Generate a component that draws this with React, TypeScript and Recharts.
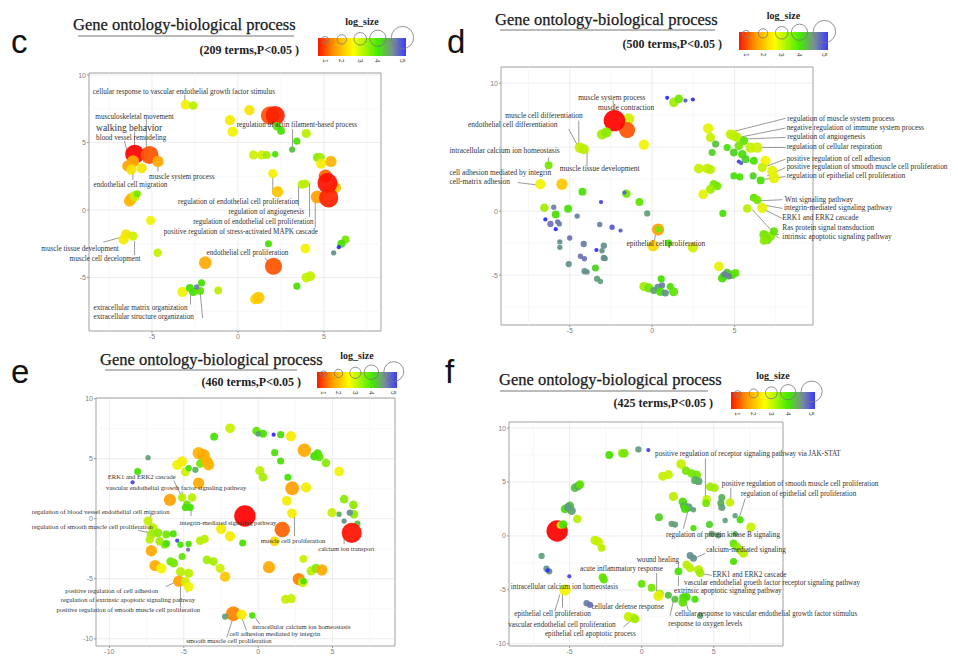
import React from "react"
import {
  ScatterChart,
  Scatter,
  XAxis,
  YAxis,
  ZAxis,
  CartesianGrid,
  Cell,
  ReferenceLine,
  ReferenceDot,
  ReferenceArea,
} from "recharts"

// [x, y, log_size, colour value]
type Pt = [number, number, number, number]
// [text, x, y, anchor]
type Lab = [string, number, number, "start" | "end"]
// [x1, y1, x2, y2]
type Seg = [number, number, number, number]

const legendTicks = [1, 2, 3, 4, 5]
const termCounts = ["(209 terms,P<0.05 )", "(500 terms,P<0.05 )", "(460 terms,P<0.05 )", "(425 terms,P<0.05 )"]

const cPoints: Pt[] = [
  [-3.05, 7.8, 1.7, 3.0], [-2.6, 7.75, 1.5, 3.5], [0.66, 7.4, 1.8, 2.8], [-0.47, 6.66, 1.8, 2.9],
  [-0.31, 5.8, 1.8, 3.0], [1.87, 7.0, 4.0, 1.5], [2.16, 7.0, 4.2, 1.2], [2.26, 6.2, 1.5, 3.9],
  [2.5, 5.87, 1.4, 4.0], [3.15, 4.48, 1.2, 4.2], [3.42, 5.1, 1.3, 4.0], [3.97, 5.67, 1.6, 3.5],
  [0.9, 4.08, 1.6, 3.3], [1.38, 4.08, 1.6, 3.3], [1.67, 4.08, 1.4, 3.6], [2.16, 4.13, 1.2, 4.0],
  [2.02, 2.7, 1.6, 3.0], [2.3, 1.36, 2.0, 2.4], [3.72, 1.9, 1.5, 3.5], [3.91, 1.95, 1.5, 3.5],
  [4.6, 3.9, 1.5, 3.7], [4.8, 3.9, 1.5, 3.6], [4.83, 3.44, 1.8, 2.9], [5.4, 3.6, 2.0, 2.2],
  [4.6, 0.97, 2.3, 2.0], [5.08, 2.5, 2.5, 1.6], [5.66, 1.66, 2.0, 2.3], [5.2, 2.0, 4.5, 1.1],
  [5.27, 0.9, 4.2, 1.2], [-6.0, 4.13, 4.2, 1.0], [-5.14, 4.08, 3.8, 1.5], [-6.4, 3.27, 2.0, 2.0],
  [-6.1, 3.6, 2.2, 2.1], [-5.6, 3.1, 1.8, 2.8], [-6.2, 3.0, 1.8, 2.8], [-4.65, 3.6, 2.0, 2.1],
  [-6.3, 0.67, 2.0, 2.2], [-6.2, 0.85, 2.0, 2.2], [-6.0, 1.04, 1.8, 3.4], [-5.85, 1.2, 1.3, 3.8],
  [-5.08, -0.77, 1.6, 3.0], [-6.5, -1.8, 1.8, 2.8], [-6.65, -2.18, 1.8, 2.9], [-6.1, -1.93, 1.6, 3.3],
  [-4.67, -3.17, 1.5, 3.4], [-1.9, -3.9, 2.3, 2.1], [1.77, -2.5, 1.3, 4.0], [2.06, -4.16, 3.5, 1.5],
  [3.91, -2.85, 1.7, 3.0], [6.25, -2.18, 1.4, 3.8], [6.0, -2.5, 1.4, 4.0], [5.86, -2.75, 1.0, 5.0],
  [5.56, -3.17, 1.1, 4.5], [4.2, -4.9, 1.7, 3.4], [3.97, -5.0, 1.7, 3.4], [3.42, -5.64, 1.3, 4.0],
  [-3.23, -6.06, 1.8, 3.0], [-2.8, -5.77, 1.4, 4.0], [-2.6, -6.06, 1.5, 4.0], [-2.12, -5.4, 1.3, 4.0],
  [-2.2, -6.0, 1.4, 3.9], [-2.4, -5.7, 1.1, 4.6], [-1.15, -5.96, 1.4, 3.5], [1.0, -6.6, 1.8, 2.6],
  [1.19, -6.5, 2.2, 2.4],
]

const dPoints: Pt[] = [
  [-1.42, 7.2, 2.0, 3.3], [-1.52, 6.33, 3.2, 1.5], [-2.29, 7.07, 5.0, 1.0], [-3.04, 6.0, 1.8, 3.6],
  [-2.77, 6.15, 1.8, 3.7], [-0.5, 5.2, 1.8, 3.0], [-4.39, 4.97, 1.8, 3.4], [-4.15, 4.84, 1.8, 3.5],
  [-6.28, 3.59, 1.4, 3.8], [-6.78, 2.1, 1.8, 3.0], [-5.47, 2.1, 2.0, 2.4], [-4.23, 1.52, 1.4, 4.0],
  [-1.56, 1.36, 1.5, 3.8], [-1.68, 1.44, 1.0, 4.8], [-3.1, 0.71, 1.0, 4.9], [-0.77, 0.71, 1.4, 3.9],
  [-0.3, -0.18, 1.2, 4.4], [-6.54, 0.26, 1.5, 3.6], [-5.97, 0.31, 1.1, 4.6], [-5.1, 0.18, 1.4, 4.0],
  [-5.85, -0.26, 1.4, 4.0], [-6.48, -0.65, 1.0, 5.0], [-6.17, -1.0, 1.2, 4.7], [-5.73, -0.84, 1.1, 4.7],
  [-5.63, -1.0, 1.1, 4.6], [-5.85, -1.41, 1.0, 5.0], [-4.55, -0.39, 1.1, 4.6], [-3.18, -1.05, 1.1, 4.6],
  [-2.43, -1.26, 1.1, 4.8], [-1.92, -1.52, 1.0, 4.8], [-5.0, -2.1, 1.1, 4.7], [-5.6, -2.4, 1.1, 4.5],
  [-5.6, -2.83, 1.1, 4.5], [-4.15, -2.57, 1.2, 4.6], [-2.93, -2.7, 1.2, 4.5], [-3.04, -3.1, 1.1, 4.5],
  [-3.38, -3.04, 1.0, 5.0], [-4.35, -3.53, 1.1, 4.7], [-4.11, -3.72, 1.1, 4.7], [-2.93, -3.66, 1.2, 4.5],
  [-2.85, -3.7, 1.1, 4.5], [-5.06, -4.14, 1.2, 4.5], [-4.1, -4.7, 1.2, 4.5], [-3.95, -4.75, 1.1, 4.5],
  [-3.44, -4.45, 1.3, 4.1], [-3.34, -5.29, 1.2, 4.4], [-3.14, -5.5, 1.1, 4.4], [0.36, -1.44, 2.2, 2.0],
  [0.38, -1.44, 1.2, 3.8], [0.06, -2.7, 2.0, 2.6], [1.0, -2.5, 1.3, 4.0], [2.47, -2.83, 1.8, 3.3],
  [-0.5, -5.9, 1.6, 3.6], [-0.2, -6.0, 1.6, 3.8], [0.1, -6.2, 1.3, 4.4], [0.35, -5.95, 1.3, 4.5],
  [0.6, -5.8, 1.2, 4.6], [0.5, -6.3, 1.5, 4.0], [0.55, -5.3, 1.3, 4.0], [1.1, -5.9, 1.3, 4.0],
  [1.3, -6.3, 1.6, 3.9], [0.8, -6.4, 1.3, 4.5], [0.91, 8.85, 1.0, 5.0], [1.32, 8.5, 1.7, 3.6],
  [1.62, 8.77, 1.5, 3.8], [2.02, 8.64, 1.0, 4.8], [2.47, 8.72, 1.0, 5.0], [3.4, 6.47, 1.8, 3.1],
  [3.54, 5.76, 1.6, 3.4], [3.85, 5.24, 1.3, 4.2], [4.55, 4.97, 1.3, 4.0], [3.64, 4.58, 1.3, 4.1],
  [2.83, 3.32, 1.7, 3.4], [3.34, 3.32, 1.7, 3.4], [3.54, 3.25, 1.6, 3.5], [3.74, 2.1, 1.5, 3.8],
  [3.95, 1.96, 1.5, 3.8], [3.54, 1.7, 1.6, 3.6], [3.1, 1.31, 1.7, 3.1], [4.29, -0.18, 1.3, 4.0],
  [4.76, 6.0, 1.7, 3.4], [4.96, 5.9, 1.8, 3.4], [5.16, 5.76, 1.6, 3.5], [5.57, 5.5, 1.5, 3.9],
  [5.26, 5.1, 1.5, 3.8], [5.97, 4.97, 1.8, 3.4], [6.38, 4.97, 1.8, 3.3], [4.96, 4.58, 1.4, 4.1],
  [5.47, 4.45, 1.5, 4.0], [5.67, 4.06, 1.4, 4.1], [6.17, 3.93, 1.4, 4.0], [5.26, 3.87, 1.0, 4.9],
  [5.4, 3.75, 1.0, 4.8], [6.88, 3.93, 1.8, 3.0], [6.68, 3.4, 1.6, 3.4], [7.29, 3.14, 1.8, 3.1],
  [7.39, 2.6, 1.9, 3.1], [4.96, 2.75, 1.3, 4.0], [5.32, 2.67, 1.3, 4.0], [6.13, 2.75, 1.3, 4.1],
  [6.58, 2.4, 1.4, 4.0], [6.17, 1.05, 1.4, 3.9], [6.38, 0.86, 1.5, 3.8], [6.68, 0.26, 1.8, 3.1],
  [5.77, 0.2, 1.5, 3.5], [6.78, -1.83, 1.6, 3.8], [7.19, -1.96, 1.6, 3.7], [6.98, -2.23, 1.6, 3.8],
  [7.39, -1.57, 1.4, 3.9], [6.78, -2.3, 1.5, 3.7], [4.05, -4.32, 1.7, 3.1], [4.55, -4.84, 1.5, 4.2],
  [4.86, -4.97, 1.5, 4.0], [4.35, -5.1, 1.5, 4.1], [4.66, -5.1, 1.2, 4.6], [4.25, -5.24, 1.5, 4.0],
  [5.06, -4.84, 1.4, 3.9], [4.4, -4.95, 1.2, 4.6],
]

const ePoints: Pt[] = [
  [1.62, -0.9, 3.0, 1.6], [2.29, 2.53, 2.6, 2.0], [3.11, 5.7, 2.5, 2.1], [3.22, 2.6, 1.8, 2.9],
  [2.2, 6.88, 1.8, 2.9], [1.93, 1.49, 1.7, 2.9], [2.27, 0.45, 1.7, 2.9], [2.0, 3.45, 1.3, 4.0],
  [1.11, 5.5, 1.3, 4.0], [1.51, 4.8, 1.3, 4.0], [1.04, 7.0, 1.0, 5.0], [1.51, 7.0, 1.3, 4.0],
  [-0.11, 7.3, 1.5, 3.9], [0.33, 7.08, 1.4, 4.0], [0.0, 7.05, 1.1, 4.4], [-1.89, 7.53, 1.7, 3.4],
  [-2.96, 6.83, 1.4, 4.0], [0.11, 4.0, 1.6, 3.5], [0.33, 3.45, 1.5, 3.6], [1.11, -1.88, 1.7, 2.6],
  [-1.04, -2.02, 1.3, 4.0], [-1.89, -1.46, 1.8, 2.9], [-2.49, -0.84, 1.8, 2.9], [-3.9, -1.83, 1.5, 3.5],
  [-3.6, -1.69, 1.5, 3.5], [0.73, -4.04, 2.2, 2.1], [-3.44, -3.43, 1.5, 3.6], [-3.0, -3.57, 1.5, 3.6],
  [-2.56, -4.13, 1.6, 3.3], [-2.22, -4.83, 1.8, 2.4], [-1.67, -7.92, 2.8, 1.8], [-1.11, -7.98, 1.8, 2.9],
  [-0.4, -8.06, 1.2, 4.0], [-2.22, -8.15, 1.2, 4.4], [1.84, -6.71, 1.6, 3.4], [2.22, -6.66, 1.6, 3.4],
  [2.73, -5.03, 2.2, 1.8], [3.0, -5.3, 1.7, 3.4], [3.05, -5.2, 1.2, 4.0], [3.04, -3.34, 1.4, 3.4],
  [3.56, -4.35, 1.6, 3.5], [3.89, -4.13, 1.6, 3.7], [4.29, -4.27, 2.0, 2.1], [4.0, 5.42, 1.5, 4.0],
  [4.11, 5.14, 1.5, 3.9], [4.56, 4.63, 1.5, 3.7], [3.78, 5.2, 1.5, 4.0], [5.44, 3.93, 1.7, 3.0],
  [5.78, 1.63, 1.5, 3.7], [6.4, 1.15, 1.5, 3.7], [6.44, 0.37, 1.5, 3.7], [4.96, 0.5, 1.6, 3.4],
  [5.44, 0.37, 1.1, 4.3], [5.78, -0.2, 1.1, 4.5], [6.16, 0.5, 1.2, 4.5], [6.67, -0.42, 1.2, 4.2],
  [-4.0, 5.46, 2.2, 2.2], [-3.67, 5.3, 2.2, 2.1], [-5.44, 4.49, 1.8, 3.0], [-5.11, 4.77, 1.8, 2.9],
  [-4.89, 3.9, 1.6, 3.3], [-4.67, 4.2, 1.2, 4.0], [-4.22, 4.07, 1.2, 4.3], [-3.89, 4.6, 1.5, 3.8],
  [-3.33, 4.49, 2.0, 2.2], [-3.44, 4.77, 2.0, 2.2], [-7.4, 5.08, 1.1, 4.4], [-8.1, 3.93, 1.3, 4.0],
  [-8.44, 3.03, 1.0, 4.9], [-4.0, 2.95, 2.0, 2.1], [-5.93, 1.57, 2.2, 2.0], [-5.11, 1.77, 1.5, 3.5],
  [-4.78, 1.21, 1.3, 3.9], [-4.44, 1.77, 1.5, 3.5], [-4.89, 0.93, 1.3, 4.0], [-4.56, 0.93, 1.3, 4.0],
  [-7.4, -0.2, 1.6, 3.4], [-7.07, -0.76, 1.6, 3.5], [-7.18, -1.32, 1.6, 3.6], [-6.73, -1.18, 1.5, 3.7],
  [-7.29, -1.74, 1.5, 3.5], [-6.62, -1.88, 1.5, 3.6], [-6.18, -1.32, 1.4, 3.8], [-6.29, -2.16, 1.4, 3.7],
  [-7.18, -2.67, 2.0, 2.1], [-6.16, -2.08, 1.3, 4.0], [-5.71, -1.26, 1.3, 4.0], [-5.44, -1.83, 1.0, 4.9],
  [-5.22, -2.16, 1.2, 4.0], [-4.67, -2.1, 1.2, 4.0], [-4.71, -2.58, 1.0, 4.7], [-5.89, -3.57, 1.5, 3.8],
  [-5.67, -3.7, 1.5, 3.8], [-5.11, -3.15, 1.3, 3.9], [-6.93, -3.9, 2.0, 2.1], [-6.51, -4.13, 1.8, 3.0],
  [-5.22, -4.41, 1.6, 3.5], [-4.67, -4.55, 1.6, 3.5], [-5.33, -5.2, 2.0, 2.0], [-4.89, -5.25, 1.6, 3.3],
  [-4.67, -5.67, 1.7, 3.0], [-0.89, 0.22, 5.0, 1.0], [6.29, -1.18, 4.5, 1.1],
]

const fPoints: Pt[] = [
  [-5.86, 0.46, 5.0, 1.0], [-5.65, 1.0, 1.3, 3.0], [-5.44, 1.06, 1.5, 4.0], [-2.25, 7.5, 1.4, 4.0],
  [-1.35, 7.66, 1.5, 3.7], [-1.2, 7.66, 1.5, 3.8], [-0.23, 8.02, 1.2, 4.4], [0.46, 7.96, 1.0, 4.9],
  [-4.63, 4.47, 1.5, 4.2], [-4.4, 4.62, 1.5, 4.3], [-4.28, 4.77, 1.5, 3.9], [-5.32, 2.5, 1.5, 4.0],
  [-4.98, 2.8, 1.5, 4.2], [-4.86, 2.34, 1.5, 4.4], [-5.1, 2.65, 1.5, 4.4], [-4.47, 1.58, 1.5, 3.5],
  [-3.24, -0.4, 1.6, 3.4], [-3.0, -0.55, 1.6, 3.4], [-2.78, -1.1, 1.4, 3.5], [-6.94, -1.85, 1.2, 4.4],
  [-6.6, -3.04, 1.2, 4.5], [-6.41, -3.28, 1.2, 4.5], [-6.52, -3.2, 1.0, 5.0], [-5.02, -3.74, 1.0, 4.9],
  [-5.32, -5.0, 2.0, 3.0], [-2.71, -3.83, 1.4, 3.9], [-2.62, -4.04, 1.4, 3.9], [-3.82, -6.23, 1.2, 4.6],
  [-3.59, -6.38, 1.2, 4.7], [-0.93, -7.48, 1.6, 3.4], [-0.58, -7.6, 1.6, 3.4], [-0.46, -7.7, 1.5, 3.6],
  [0.0, -4.44, 1.4, 3.9], [0.69, -4.8, 1.4, 3.8], [1.27, -5.35, 1.4, 3.6], [1.16, -5.56, 1.8, 3.1],
  [1.85, -5.5, 1.3, 4.2], [2.31, -5.87, 1.3, 4.2], [2.55, -3.28, 1.4, 4.0], [2.89, -5.71, 1.5, 4.0],
  [3.12, -5.65, 1.4, 4.0], [3.7, -5.87, 1.3, 4.0], [2.85, -6.17, 1.5, 3.9], [4.05, -7.39, 1.2, 4.4],
  [3.12, -2.67, 1.5, 3.5], [3.36, -2.98, 1.5, 3.5], [3.94, -3.13, 1.6, 3.5], [4.05, -3.43, 1.5, 3.6],
  [3.36, -1.82, 1.3, 4.5], [3.59, -2.07, 1.3, 4.5], [6.37, -0.7, 1.4, 3.9], [6.6, -1.0, 1.5, 3.7],
  [6.83, -1.3, 1.5, 3.6], [7.06, -1.6, 1.6, 3.5], [6.37, -2.37, 1.3, 4.0], [7.57, 0.82, 1.6, 3.4],
  [6.83, 1.49, 1.3, 4.0], [6.48, 1.88, 1.1, 4.4], [5.79, 1.43, 1.1, 4.4], [4.7, 1.06, 1.3, 4.1],
  [3.59, 0.73, 1.2, 4.0], [4.86, 0.2, 1.2, 4.4], [5.32, 0.06, 1.2, 4.4], [6.48, 0.2, 1.1, 4.3],
  [2.08, 1.12, 1.2, 4.4], [2.31, 1.05, 1.2, 4.4], [1.2, 1.73, 1.4, 4.1], [2.2, 3.65, 1.6, 3.5],
  [2.85, 3.16, 1.5, 4.0], [2.94, 2.8, 1.5, 4.2], [3.24, 2.64, 1.5, 4.4], [3.59, 2.43, 1.1, 4.4],
  [3.0, 2.5, 1.4, 4.0], [2.73, 6.66, 1.7, 3.4], [3.08, 6.05, 1.5, 3.8], [3.47, 5.78, 1.5, 3.8],
  [3.82, 5.68, 1.5, 3.8], [3.94, 5.08, 1.4, 4.4], [3.7, 5.17, 1.4, 4.3], [1.46, 5.53, 1.6, 3.4],
  [1.85, 5.68, 1.6, 3.4], [4.75, 4.56, 1.5, 3.6], [5.05, 4.47, 1.5, 3.6], [4.51, 3.4, 1.5, 3.4],
  [4.47, 3.04, 1.4, 3.8], [5.56, 3.56, 1.3, 4.3], [5.49, 3.04, 1.3, 4.3], [5.56, 2.64, 1.3, 4.4],
  [6.13, 3.1, 1.5, 3.4],
]

const cLabels: Lab[] = [
  ["cellular response to vascular endothelial growth factor stimulus", -8.44, 8.79, "start"],
  ["musculoskeletal movement", -8.29, 6.9, "start"],
  ["walking behavior", -8.25, 6.1, "start"],
  ["blood vessel remodeling", -8.25, 5.37, "start"],
  ["muscle system process", -5.17, 2.48, "start"],
  ["endothelial cell migration", -8.4, 1.86, "start"],
  ["regulation of actin filament-based process", -0.08, 6.3, "start"],
  ["regulation of endothelial cell proliferation", 3.52, 0.62, "end"],
  ["regulation of angiogenesis", 3.85, -0.12, "end"],
  ["regulation of endothelial cell proliferation", 4.4, -0.87, "end"],
  ["positive regulation of stress-activated MAPK cascade", 4.65, -1.6, "end"],
  ["muscle tissue development", -6.93, -2.85, "end"],
  ["muscle cell decelopment", -5.66, -3.59, "end"],
  ["endothelial cell proliferation", -1.83, -3.17, "start"],
  ["extracellular matrix organization", -8.4, -7.2, "start"],
  ["extracellular structure organization", -8.4, -7.87, "start"],
]

const dLabels: Lab[] = [
  ["muscle system process", -4.49, 8.85, "start"],
  ["muscle contraction", -3.28, 8.1, "start"],
  ["muscle cell differentiation", -8.91, 7.46, "start"],
  ["endothelial cell differentiation", -11.17, 6.75, "start"],
  ["intracellular calcium ion homeostasis", -12.3, 4.71, "start"],
  ["cell adhesion mediated by integrin", -12.3, 3.06, "start"],
  ["cell-matrix adhesion", -12.3, 2.33, "start"],
  ["muscle tissue development", -5.6, 3.35, "start"],
  ["epithelial cell proliferation", -1.56, -2.49, "start"],
  ["regulation of muscle system process", 8.2, 7.28, "start"],
  ["negative regulation of immune system process", 8.16, 6.54, "start"],
  ["regulation of angiogenesis", 8.2, 5.81, "start"],
  ["regulation of cellular respiration", 8.16, 5.03, "start"],
  ["positive regulation of cell adhesion", 8.16, 4.14, "start"],
  ["positive regulation of smooth muscle cell proliferation", 8.16, 3.48, "start"],
  ["regulation of epithelial cell proliferation", 8.16, 2.77, "start"],
  ["Wnt signaling pathway", 8.04, 0.94, "start"],
  ["integrin-mediated signaling pathway", 8.0, 0.26, "start"],
  ["ERK1 and ERK2 cascade", 7.9, -0.52, "start"],
  ["Ras protein signal transduction", 7.9, -1.31, "start"],
  ["intrinsic apoptotic signaling pathway", 7.9, -1.96, "start"],
]

const eLabels: Lab[] = [
  ["ERK1 and ERK2 cascade", -10.11, 3.51, "start"],
  ["vascular endothelial growth factor signaling pathway", -10.22, 2.56, "start"],
  ["regulation of blood vessel endothelial cell migration", -15.22, 0.59, "start"],
  ["regulation of smooth muscle cell proliferation", -15.22, -0.65, "start"],
  ["integrin-mediated signaling pathway", -5.27, -0.34, "start"],
  ["muscle cell proliferation", 0.18, -1.8, "start"],
  ["calcium ion transport", 4.04, -2.5, "start"],
  ["positive regulation of cell adhesion", -12.96, -5.96, "start"],
  ["regulation of extrinsic apoptotic signaling  pathway", -13.27, -6.71, "start"],
  ["positive regulation of smooth muscle cell proliferation", -13.56, -7.56, "start"],
  ["intracellular calcium ion homeostasis", -0.4, -8.96, "start"],
  ["cell adhesion mediated by integrin", -1.93, -9.55, "start"],
  ["smooth muscle cell proliferation", -4.84, -10.17, "start"],
]

const fLabels: Lab[] = [
  ["positive regulation of receptor signaling pathway via JAK-STAT", 0.93, 7.6, "start"],
  ["positive regulation of smooth muscle cell proliferation", 5.56, 4.86, "start"],
  ["regulation of epithelial cell proliferation", 6.88, 3.92, "start"],
  ["regulation of protein kinase B signaling", 1.69, 0.15, "start"],
  ["calcium-mediated signaling", 4.47, -1.22, "start"],
  ["wound healing", -0.35, -2.19, "start"],
  ["acute inflammatory response", -4.28, -3.04, "start"],
  ["ERK1 and ERK2 cascade", 4.91, -3.59, "start"],
  ["vascular endothelial groeth factor receptor signaling pathway", 2.94, -4.35, "start"],
  ["extrinsic apoptotic signaling pathway", 2.25, -5.1, "start"],
  ["intracellular calcium ion homeostasis", -9.07, -4.65, "start"],
  ["epithelial cell proliferation", -8.84, -7.23, "start"],
  ["vascular endothelial cell proliferation", -9.26, -8.2, "start"],
  ["epithelial cell apoptotic process", -6.71, -9.0, "start"],
  ["cellular defense response", -3.47, -6.5, "start"],
  ["cellular response to vascular endothelial growth factor stimulus", 2.31, -7.23, "start"],
  ["response to oxygen levels", 1.85, -8.08, "start"],
]

const cLeaders: Seg[] = [
  [-3.09, 8.54, -3.09, 7.72], [-5.33, 6.73, -5.33, 3.69], [-6.01, 5.82, -6.01, 4.63],
  [-6.6, 5.12, -6.4, 4.13], [-4.65, 2.85, -4.65, 3.39], [-6.11, 2.2, -6.11, 2.9],
  [3.17, 5.99, 3.17, 4.5], [2.02, 2.52, 2.02, 1.16], [3.52, 1.78, 3.52, 0.3],
  [4.16, 2.03, 4.16, -0.52], [4.49, 0.79, 4.49, -1.31], [-7.82, -2.38, -6.21, -1.81],
  [-6.01, -2.3, -6.01, -3.34], [1.58, -3.54, 1.96, -4.28], [-2.76, -6.01, -2.76, -7.0],
  [-2.22, -5.77, -2.06, -8.0],
]

const dLeaders: Seg[] = [
  [-2.37, 8.64, -2.33, 7.46], [-4.45, 7.07, -4.45, 5.24], [-5.06, 6.41, -4.55, 5.18],
  [-6.28, 4.19, -6.28, 3.66], [-8.16, 2.23, -6.94, 2.04], [-3.95, 4.71, -3.95, 3.48],
  [0.2, -1.83, 0.14, -2.36], [4.96, 6.23, 8.1, 7.25], [5.26, 5.76, 8.1, 6.49],
  [5.57, 5.63, 8.1, 5.76], [6.48, 4.97, 8.1, 4.97], [6.88, 3.48, 8.1, 4.06],
  [6.98, 2.75, 8.1, 3.4], [6.78, 2.49, 8.1, 2.7], [6.28, 0.79, 7.9, 0.89],
  [6.58, 0.52, 7.9, 0.21], [6.58, 0.26, 7.9, -0.58], [7.19, -1.83, 7.69, -1.83],
  [6.07, 0.13, 7.69, -2.15],
]

const eLeaders: Seg[] = [
  [-5.67, 3.17, -5.11, 1.77], [-5.11, 2.28, -5.11, 1.54], [-7.22, 0.37, -7.22, -0.34],
  [-8.07, -0.98, -7.22, -1.18], [-4.51, 0.22, -4.51, 0.79], [2.44, -1.46, 2.44, 0.37],
  [5.78, -2.11, 5.78, -1.46], [-6.22, -5.67, -5.44, -5.2], [-5.22, -7.36, -5.22, -5.39],
  [-4.78, -6.15, -4.78, -5.31], [0.11, -8.76, -0.22, -8.2], [-0.78, -9.33, -1.11, -8.2],
  [-2.11, -9.89, -1.67, -8.2],
]

const fLeaders: Seg[] = [
  [4.42, 7.2, 4.42, 3.4], [6.18, 4.47, 6.18, 3.4], [7.18, 3.47, 6.71, 1.43],
  [2.89, 0.67, 3.24, 2.49], [3.59, -2.13, 4.4, -1.61], [2.55, -2.52, 2.55, -3.28],
  [1.04, -3.43, 1.04, -5.26], [4.28, -3.53, 4.86, -3.65], [2.55, -3.74, 2.55, -4.65],
  [-5.49, -5.26, -5.49, -6.63], [-5.67, -5.41, -6.02, -6.99], [-1.27, -8.45, -0.69, -7.78],
  [-3.77, -6.23, -3.4, -6.47], [3.01, -5.87, 3.24, -6.93], [2.2, -6.02, 1.97, -7.39],
]

const ticks5 = [-5, 0, 5]
const ticks10 = [-10, -5, 0, 5]
const yTicksTop = [-5, 0, 5, 10]
// in panel d the "5" tick label is covered by a term label, so only its grid line is kept
const yTicksD = [-5, 0, 10]
const yTicksFull = [-10, -5, 0, 5, 10]
const minorTicks = [-12.5, -7.5, -2.5, 2.5, 7.5, 12.5]

// colour scale used for the points (red -> orange -> yellow -> green -> grey -> blue)
const colorStops: [number, string][] = [
  [1, "#ff0000"], [1.5, "#ff5200"], [2, "#ffa000"], [2.5, "#ffcf00"], [3, "#f2f200"],
  [3.5, "#b8ef00"], [4, "#46e000"], [4.4, "#5e9f78"], [4.7, "#6b70b4"], [5, "#2a2aff"],
]

const rgb = (h: string) => [1, 3, 5].map((i) => parseInt(h.slice(i, i + 2), 16))

function colorFor(v: number) {
  if (v <= colorStops[0][0]) return colorStops[0][1]
  for (let i = 1; i < colorStops.length; i++) {
    const [v1, c1] = colorStops[i]
    if (v <= v1) {
      const [v0, c0] = colorStops[i - 1]
      const t = (v - v0) / (v1 - v0)
      const a = rgb(c0)
      const b = rgb(c1)
      return `rgb(${a.map((x, k) => Math.round(x + (b[k] - x) * t)).join(",")})`
    }
  }
  return colorStops[colorStops.length - 1][1]
}

const panels = [
  {
    id: "c", points: cPoints, labels: cLabels, leaders: cLeaders, fontSize: 7.2,
    left: 0, top: 0, width: 480, height: 345, margin: { top: 73, right: 99, bottom: 2, left: 73 },
    xDomain: [-8.66, 8.31], yDomain: [-8.96, 10.15], xTicks: ticks5, yTicks: yTicksTop, extraY: [] as number[],
  },
  {
    id: "d", points: dPoints, labels: dLabels, leaders: dLeaders, fontSize: 7.4,
    left: 440, top: 0, width: 518, height: 340, margin: { top: 67, right: 145, bottom: 3, left: 45 },
    xDomain: [-9.17, 9.76], yDomain: [-8.9, 11.26], xTicks: ticks5, yTicks: yTicksD, extraY: [5],
  },
  {
    id: "e", points: ePoints, labels: eLabels, leaders: eLeaders, fontSize: 6.6,
    left: 0, top: 340, width: 440, height: 318, margin: { top: 58, right: 45, bottom: 0, left: 80 },
    xDomain: [-10.9, 9.2], yDomain: [-10.6, 10.05], xTicks: ticks10, yTicks: yTicksFull, extraY: [] as number[],
  },
  {
    id: "f", points: fPoints, labels: fLabels, leaders: fLeaders, fontSize: 7.2,
    left: 440, top: 340, width: 518, height: 318, margin: { top: 82, right: 175, bottom: 0, left: 53 },
    xDomain: [-9.2, 9.8], yDomain: [-10.2, 10.56], xTicks: ticks5, yTicks: yTicksFull, extraY: [] as number[],
  },
]

const headers = [
  { letter: "c", lx: 11, ly: 53, tx: 73, ty: 30, ul: [78, 294, 36], sx: 299, sy: 54, bx: 318, by: 38, bw: 88, bh: 18, gy: 25, terms: termCounts[0] },
  { letter: "d", lx: 447, ly: 53, tx: 495, ty: 25, ul: [500, 715, 30], sx: 722, sy: 48, bx: 739, by: 32, bw: 89, bh: 18, gy: 19, terms: termCounts[1] },
  { letter: "e", lx: 11, ly: 383, tx: 100, ty: 365, ul: [105, 297, 370], sx: 301, sy: 386, bx: 317, by: 372, bw: 80, bh: 16, gy: 359, terms: termCounts[2] },
  { letter: "f", lx: 445, ly: 383, tx: 499, ty: 385, ul: [500, 708, 391], sx: 713, sy: 407, bx: 731, by: 392, bw: 84, bh: 17, gy: 379, terms: termCounts[3] },
]

const serif = "'Liberation Serif', 'Times New Roman', serif"
const circleFrac = [0.08, 0.27, 0.48, 0.68, 0.96]
const circleRad = [0.2, 0.26, 0.35, 0.45, 0.62]

function Headers() {
  return (
    <svg width={958} height={658} style={{ position: "absolute", left: 0, top: 0 }}>
      <defs>
        <linearGradient id="logsize" x1="0" x2="1" y1="0" y2="0">
          <stop offset="0" stopColor="#ff1500" />
          <stop offset="0.18" stopColor="#ff9500" />
          <stop offset="0.4" stopColor="#ffff00" />
          <stop offset="0.68" stopColor="#44ec00" />
          <stop offset="0.85" stopColor="#7a8c98" />
          <stop offset="1" stopColor="#3a3aff" />
        </linearGradient>
      </defs>
      {headers.map((h) => (
        <g key={h.letter}>
          <text x={h.lx} y={h.ly} fontFamily="'Liberation Sans', Arial, sans-serif" fontSize={33} fill="#111">
            {h.letter}
          </text>
          <text x={h.tx} y={h.ty} fontFamily={serif} fontSize={16.5} fill="#1a1a1a" stroke="#1a1a1a" strokeWidth={0.25}>
            Gene ontology-biological process
          </text>
          <line x1={h.ul[0]} x2={h.ul[1]} y1={h.ul[2]} y2={h.ul[2]} stroke="#777" strokeWidth={1} />
          <text x={h.sx} y={h.sy} textAnchor="end" fontFamily={serif} fontSize={12} fontWeight="bold" fill="#222">
            {h.terms}
          </text>
          <text x={h.bx + h.bw * 0.5} y={h.gy} textAnchor="middle" fontFamily={serif} fontSize={10} fontWeight="bold" fill="#222">
            log_size
          </text>
          <rect x={h.bx} y={h.by} width={h.bw} height={h.bh} fill="url(#logsize)" />
          {legendTicks.map((t, i) => (
            <g key={t}>
              <circle
                cx={h.bx + h.bw * circleFrac[i]}
                cy={h.by + 2 - i * 0.6}
                r={h.bh * circleRad[i]}
                fill="none"
                stroke="#777"
                strokeWidth={0.8}
              />
              <text
                transform={`translate(${h.bx + h.bw * circleFrac[i] - 2.5},${h.by + h.bh + 3}) rotate(90)`}
                fontFamily="'Liberation Sans', Arial, sans-serif"
                fontSize={6.5}
                fill="#444"
              >
                {t}
              </text>
            </g>
          ))}
        </g>
      ))}
    </svg>
  )
}

function GoPanel({ p }: { p: (typeof panels)[number] }) {
  const data = p.points.map(([x, y, s, c]) => ({ x, y, s, c }))
  const [x0, x1] = p.xDomain
  const [y0, y1] = p.yDomain
  const tickStyle = { fontSize: 7, fill: "#808080", fontFamily: "'Liberation Sans', Arial, sans-serif" }
  return (
    <div style={{ position: "absolute", left: p.left, top: p.top }}>
      <ScatterChart width={p.width} height={p.height} margin={p.margin}>
        <CartesianGrid stroke="#e9e9e9" strokeWidth={0.8} />
        {minorTicks.filter((t) => t > x0 && t < x1).map((t) => (
          <ReferenceLine key={"mx" + t} x={t} stroke="#f4f4f4" strokeWidth={0.6} />
        ))}
        {minorTicks.filter((t) => t > y0 && t < y1).map((t) => (
          <ReferenceLine key={"my" + t} y={t} stroke="#f4f4f4" strokeWidth={0.6} />
        ))}
        {p.extraY.map((t) => (
          <ReferenceLine key={"ey" + t} y={t} stroke="#e9e9e9" strokeWidth={0.8} />
        ))}
        <ReferenceArea x1={x0} x2={x1} y1={y0} y2={y1} fill="none" stroke="#a9a9a9" strokeWidth={1} ifOverflow="visible" />
        <XAxis
          type="number"
          dataKey="x"
          domain={p.xDomain}
          ticks={p.xTicks}
          allowDataOverflow
          interval={0}
          axisLine={false}
          tickLine={{ stroke: "#999" }}
          tickSize={2}
          tickMargin={1}
          height={12}
          tick={tickStyle}
        />
        <YAxis
          type="number"
          dataKey="y"
          domain={p.yDomain}
          ticks={p.yTicks}
          allowDataOverflow
          interval={0}
          axisLine={false}
          tickLine={{ stroke: "#999" }}
          tickSize={2}
          tickMargin={1}
          width={16}
          tick={tickStyle}
        />
        <ZAxis type="number" dataKey="s" domain={[1, 5]} range={[14, 360]} />
        <Scatter data={data} isAnimationActive={false} fillOpacity={0.92}>
          {data.map((d, i) => (
            <Cell key={i} fill={colorFor(d.c)} />
          ))}
        </Scatter>
        {p.leaders.map(([ax, ay, bx, by], i) => (
          <ReferenceLine
            key={"l" + i}
            segment={[{ x: ax, y: ay }, { x: bx, y: by }]}
            stroke="#555"
            strokeWidth={0.6}
            ifOverflow="visible"
          />
        ))}
        {p.labels.map(([text, lx, ly, anchor], i) => (
          <ReferenceDot
            key={"t" + i}
            x={lx}
            y={ly}
            r={0}
            ifOverflow="visible"
            shape={(props: any) => (
              <text
                x={props.cx}
                y={props.cy}
                dy="0.35em"
                textAnchor={anchor}
                fontFamily={serif}
                fontSize={text === "walking behavior" ? 9.5 : p.fontSize}
                fill="#333"
              >
                {text}
              </text>
            )}
          />
        ))}
      </ScatterChart>
    </div>
  )
}

export default function App() {
  return (
    <div style={{ position: "absolute", left: 0, top: 0, width: 958, height: 658, background: "#fff", overflow: "hidden" }}>
      <style>{`.recharts-surface{overflow:visible}`}</style>
      <Headers />
      {panels.map((p) => (
        <GoPanel key={p.id} p={p} />
      ))}
    </div>
  )
}
